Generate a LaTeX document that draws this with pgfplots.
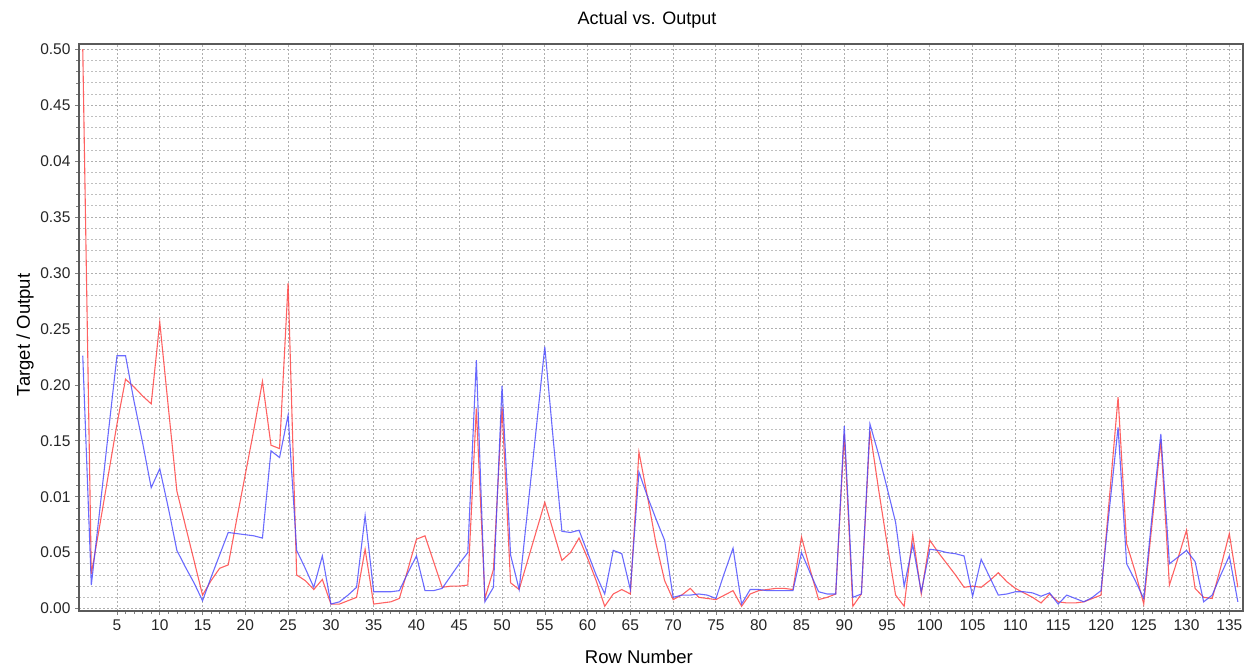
\documentclass[border=0pt]{standalone}
\usepackage{pgfplots}
\pgfplotsset{compat=1.18}
\usepackage{pgfplotstable}
\usepackage{fontspec}
\setmainfont{Liberation Sans}
\definecolor{lred}{RGB}{255,70,70}
\definecolor{lblue}{RGB}{70,70,255}
\definecolor{gridc}{RGB}{175,175,175}
\definecolor{framec}{RGB}{90,90,90}
\pgfplotstableread{
x r b
1 0.500 0.226
2 0.031 0.021
3 0.075 0.089
4 0.120 0.158
5 0.165 0.226
6 0.205 0.226
7 0.198 0.185
8 0.190 0.148
9 0.183 0.108
10 0.256 0.125
11 0.180 0.090
12 0.105 0.052
13 0.074 0.037
14 0.043 0.023
15 0.012 0.007
16 0.025 0.028
17 0.036 0.048
18 0.039 0.068
19 0.080 0.067
20 0.120 0.066
21 0.160 0.065
22 0.203 0.063
23 0.146 0.141
24 0.143 0.135
25 0.291 0.173
26 0.030 0.052
27 0.025 0.036
28 0.017 0.019
29 0.026 0.047
30 0.004 0.004
31 0.004 0.006
32 0.007 0.012
33 0.010 0.019
34 0.053 0.083
35 0.004 0.015
36 0.005 0.015
37 0.006 0.015
38 0.009 0.016
39 0.035 0.032
40 0.062 0.047
41 0.065 0.016
42 0.042 0.016
43 0.019 0.018
44 0.020 0.029
45 0.020 0.040
46 0.021 0.050
47 0.179 0.222
48 0.009 0.006
49 0.035 0.019
50 0.180 0.199
51 0.023 0.048
52 0.017 0.017
53 0.043 0.089
54 0.069 0.161
55 0.095 0.234
56 0.069 0.150
57 0.043 0.069
58 0.050 0.068
59 0.063 0.070
60 0.045 0.050
61 0.025 0.030
62 0.002 0.013
63 0.013 0.052
64 0.017 0.049
65 0.013 0.017
66 0.140 0.122
67 0.100 0.100
68 0.058 0.080
69 0.025 0.061
70 0.008 0.010
71 0.012 0.012
72 0.018 0.012
73 0.010 0.013
74 0.009 0.012
75 0.008 0.009
76 0.012 0.032
77 0.016 0.054
78 0.002 0.004
79 0.013 0.017
80 0.016 0.017
81 0.017 0.016
82 0.018 0.016
83 0.018 0.016
84 0.017 0.016
85 0.064 0.050
86 0.035 0.032
87 0.008 0.015
88 0.010 0.013
89 0.013 0.013
90 0.156 0.163
91 0.002 0.010
92 0.013 0.013
93 0.159 0.165
94 0.107 0.138
95 0.058 0.108
96 0.012 0.077
97 0.002 0.020
98 0.066 0.057
99 0.013 0.015
100 0.061 0.053
101 0.050 0.052
102 0.040 0.050
103 0.030 0.049
104 0.019 0.047
105 0.020 0.011
106 0.019 0.044
107 0.025 0.028
108 0.032 0.012
109 0.024 0.013
110 0.018 0.015
111 0.014 0.015
112 0.010 0.014
113 0.005 0.011
114 0.013 0.014
115 0.006 0.004
116 0.005 0.012
117 0.005 0.009
118 0.006 0.006
119 0.009 0.010
120 0.012 0.016
121 0.100 0.090
122 0.189 0.162
123 0.058 0.040
124 0.033 0.025
125 0.004 0.009
126 0.078 0.085
127 0.150 0.156
128 0.021 0.040
129 0.045 0.046
130 0.070 0.052
131 0.018 0.042
132 0.010 0.006
133 0.009 0.012
134 0.037 0.030
135 0.067 0.047
136 0.019 0.006
}\datatable
\begin{document}
\begin{tikzpicture}
\path[use as bounding box] (0,0) rectangle (1255pt,671pt);
\begin{axis}[
  at={(79pt,60pt)}, anchor=south west,
  width=1164pt, height=567pt, scale only axis,
  xmin=0.56, xmax=136.6, ymin=-0.0022, ymax=0.5047,
  xtick={5,10,...,135},
  minor x tick num=4,
  ytick={0,0.05,...,0.5},
  yticklabels={0.00,0.05,0.01,0.15,0.20,0.25,0.30,0.35,0.04,0.45,0.50},
  minor y tick num=4,
  xmajorgrids=true, ymajorgrids=true, yminorgrids=true,
  major grid style={gridc, dash pattern=on 2pt off 2pt, line width=0.9pt},
  minor grid style={gridc!80, dash pattern=on 2pt off 2pt, line width=0.8pt},
  axis line style={framec, line width=1.5pt},
  tick align=outside,
  major tick length=4pt, minor tick length=3pt,
  tick style={gray, line width=0.6pt},
  xtick pos=bottom, ytick pos=left,
  tick label style={font=\fontsize{15.5}{18}\selectfont, text=black!85},
  /pgf/number format/assume math mode=true,
  xticklabel style={yshift=-1pt},
  yticklabel style={xshift=-1pt},
  xlabel={Row Number},
  ylabel={Target / Output},
  xlabel style={font=\fontsize{18.5}{22}\selectfont, at={(axis description cs:0.481,0)}, anchor=center, yshift=-46pt},
  ylabel style={font=\fontsize{18.5}{22}\selectfont, at={(axis description cs:-0.0464,0.487)}, anchor=center},
  title={Actual vs. Output},
  title style={font=\fontsize{18}{22}\selectfont, at={(axis description cs:0.488,1)}, anchor=center, yshift=18pt},
  clip=true,
]
\addplot[lred, line width=1.1pt, opacity=0.85] table[x=x, y=r] {\datatable};
\addplot[lblue, line width=1.1pt, opacity=0.8] table[x=x, y=b] {\datatable};
\end{axis}
\end{tikzpicture}
\end{document}
